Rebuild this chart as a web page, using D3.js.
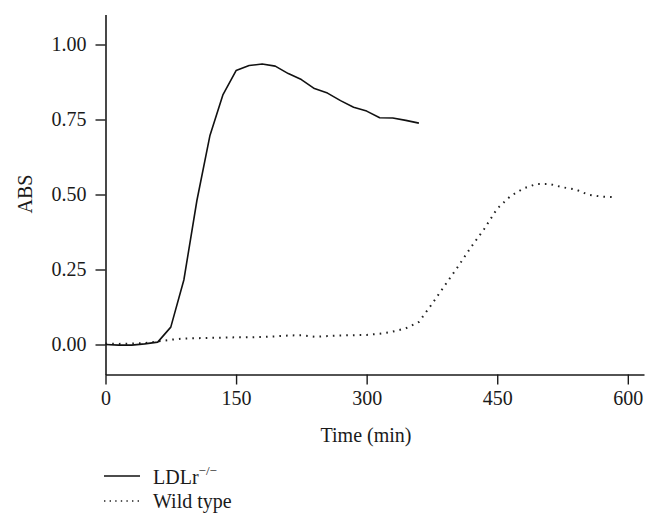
<!DOCTYPE html>
<html>
<head>
<meta charset="utf-8">
<script src="https://cdn.jsdelivr.net/npm/d3@7"></script>
<style>
  html, body { margin: 0; padding: 0; background: #fff; }
  svg text { font-family: "Liberation Serif", "Times New Roman", serif; fill: #1a1a1a; }
</style>
</head>
<body>
<svg id="chart" width="659" height="528"></svg>
<script>
// ---- data ----
const timesLDLr = [0,15,30,45,60,75,90,105,120,135,150,165,180,195,210,225,240,255,270,285,300,315,330,345,360];
const absLDLr   = [0,-0.002,-0.002,0.002,0.008,0.058,0.215,0.48,0.697,0.833,0.913,0.93,0.935,0.928,0.903,0.883,0.853,0.838,0.813,0.791,0.778,0.756,0.755,0.747,0.738];

const timesWT = [0,15,30,45,60,75,90,105,120,135,150,165,180,195,210,225,240,255,270,285,300,315,330,345,360,375,390,405,420,435,450,465,480,495,510,525,540,555,570,585];
const absWT   = [0.003,0.002,0.003,0.005,0.010,0.016,0.020,0.021,0.022,0.023,0.024,0.024,0.025,0.027,0.030,0.031,0.026,0.028,0.030,0.031,0.032,0.036,0.043,0.054,0.075,0.135,0.198,0.260,0.325,0.385,0.453,0.494,0.520,0.535,0.535,0.524,0.517,0.499,0.493,0.491];

const xTicks = [0,150,300,450,600];
const yTicks = [0,0.25,0.5,0.75,1.0];
const seriesNames = ["LDLr", "Wild type"];

// ---- layout ----
const svg = d3.select("#chart");
const x = d3.scaleLinear().domain([0, 618.6]).range([105.5, 644]);
const y = d3.scaleLinear().domain([-0.1, 1.1]).range([374.5, 14.5]);

const fontSize = 20;

// axes
const xAxis = d3.axisBottom(x).tickValues(xTicks).tickFormat(d3.format("d")).tickSize(10).tickSizeOuter(0).tickPadding(6);
const gx = svg.append("g").attr("transform", `translate(0,${y(-0.1)})`).call(xAxis);
const yAxis = d3.axisLeft(y).tickValues(yTicks).tickFormat(d3.format(".2f")).tickSize(10).tickSizeOuter(0).tickPadding(9);
const gy = svg.append("g").attr("transform", `translate(${x(0)},0)`).call(yAxis);

[gx, gy].forEach(g => {
  g.select(".domain").attr("stroke", "#1a1a1a").attr("stroke-width", 1.6);
  g.selectAll(".tick line").attr("stroke", "#1a1a1a").attr("stroke-width", 1.4);
  g.selectAll(".tick text").style("font-size", fontSize + "px").attr("fill", "#1a1a1a")
    .style("font-family", '"Liberation Serif", serif');
});

// axis titles
svg.append("text").attr("x", 366).attr("y", 442).attr("text-anchor", "middle")
  .style("font-size", fontSize + "px").text("Time (min)");
svg.append("text").attr("transform", "translate(32,194) rotate(-90)").attr("text-anchor", "middle")
  .style("font-size", fontSize + "px").text("ABS");

// lines
const line = d3.line().x(d => x(d[0])).y(d => y(d[1]));
const ldlrData = timesLDLr.map((t, i) => [t, absLDLr[i]]);
const wtData = timesWT.map((t, i) => [t, absWT[i]]);

svg.append("path").datum(wtData).attr("d", line).attr("fill", "none")
  .attr("stroke", "#222").attr("stroke-width", 2).attr("stroke-dasharray", "1.6,5.1");
svg.append("path").datum(ldlrData).attr("d", line).attr("fill", "none")
  .attr("stroke", "#111").attr("stroke-width", 1.6).attr("stroke-linejoin", "round");

// legend
const lg = svg.append("g");
lg.append("line").attr("x1", 104).attr("x2", 140).attr("y1", 476).attr("y2", 476)
  .attr("stroke", "#111").attr("stroke-width", 1.6);
const t1 = lg.append("text").attr("x", 153).attr("y", 484).style("font-size", fontSize + "px");
t1.append("tspan").text(seriesNames[0]);
t1.append("tspan").attr("dy", -9).style("font-size", "13px").text("−/−");
lg.append("line").attr("x1", 104).attr("x2", 140).attr("y1", 501).attr("y2", 501)
  .attr("stroke", "#222").attr("stroke-width", 1.6).attr("stroke-dasharray", "1.4,4.2");
lg.append("text").attr("x", 153).attr("y", 508).style("font-size", fontSize + "px").text(seriesNames[1]);
</script>
</body>
</html>
